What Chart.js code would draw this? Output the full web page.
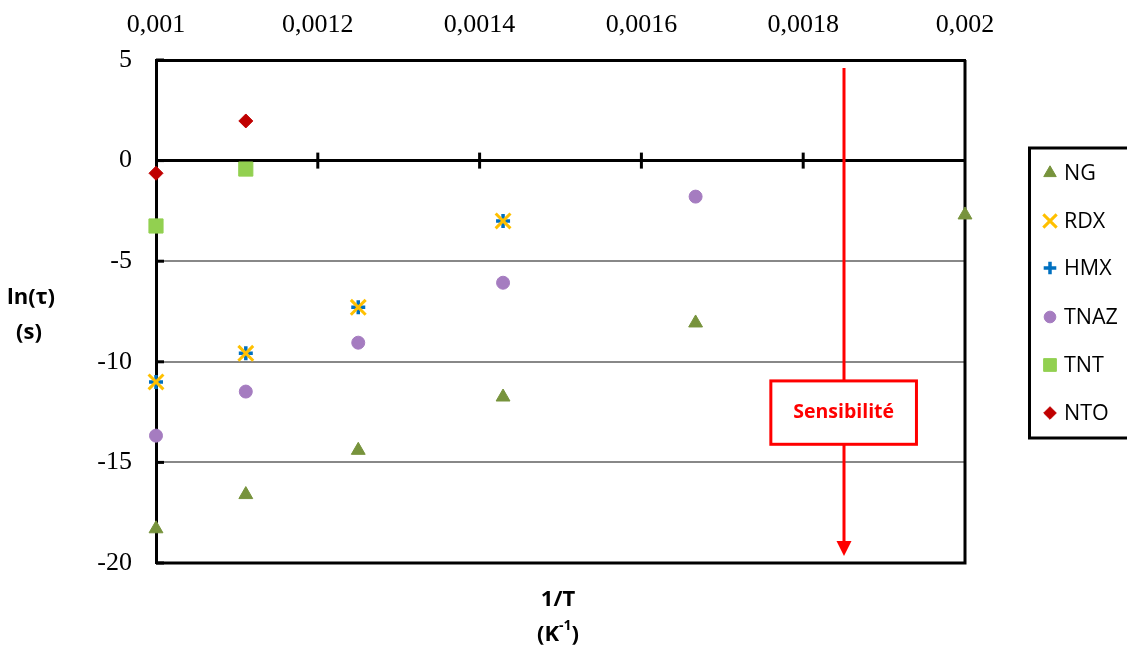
<!DOCTYPE html>
<html>
<head>
<meta charset="utf-8">
<script src="https://cdn.jsdelivr.net/npm/chart.js@4.4.0/dist/chart.umd.min.js"></script>
<style>
  body { margin: 0; background: #fff; }
</style>
</head>
<body>
<canvas id="mycanvas" width="1127" height="648"></canvas>
<script>
// 1/T values (K-1), T = 1000, 900, 800, 700, 600, 500 K
var invT = [0.001, 0.001111, 0.00125, 0.001429, 0.001667, 0.002];

var ng   = [-18.3, -16.6, -14.4, -11.75, -8.07, -2.7];
var rdx  = [-11.0, -9.58, -7.29, -3.0];
var hmx  = [-11.0, -9.58, -7.29, -3.0];
var tnaz = [-13.67, -11.48, -9.05, -6.07, -1.79];
var tnt  = [-3.25, -0.42];
var nto  = [-0.63, 1.97];

var xMin = 0.001, xMax = 0.002, xStep = 0.0002;
var yMin = -20, yMax = 5, yStep = 5;

// "Sensibilité" arrow, in data units
var sensX = 0.00185, sensTop = 4.6, sensBottom = -19.65;
var sensBox = { x1: 0.00176, x2: 0.00194, y1: -10.95, y2: -14.1 };

function pts(ys) {
  return ys.map(function(y, i) { return { x: invT[i], y: y }; });
}

var series = [
  { label: "NG",   data: ng,   color: "#77933C", style: "triangle", r: 8, bw: 1 },
  { label: "RDX",  data: rdx,  color: "#FFC000", style: "crossRot", r: 10.5, bw: 3 },
  { label: "HMX",  data: hmx,  color: "#0070C0", style: "cross",    r: 7, bw: 3.5 },
  { label: "TNAZ", data: tnaz, color: "#A57CC0", style: "circle",   r: 6.5, bw: 1 },
  { label: "TNT",  data: tnt,  color: "#92D050", style: "rect",     r: 10, bw: 1 },
  { label: "NTO",  data: nto,  color: "#C00000", style: "rectRot",  r: 7, bw: 1 }
];

var datasets = series.map(function(s) {
  return {
    label: s.label,
    data: pts(s.data),
    pointStyle: s.style,
    pointRadius: s.r,
    pointBorderWidth: s.bw,
    backgroundColor: s.color,
    borderColor: s.color,
    clip: false
  };
});

var extras = {
  id: 'extras',
  beforeDatasetsDraw: function(chart) {
    var ctx = chart.ctx, a = chart.chartArea, xs = chart.scales.x, ys = chart.scales.y;
    ctx.save();
    ctx.strokeStyle = '#000';
    ctx.lineWidth = 3;
    ctx.beginPath();
    ctx.moveTo(a.right, a.top);
    ctx.lineTo(a.right, a.bottom);
    ctx.lineTo(a.left, a.bottom);
    ctx.stroke();
    // tick marks on the zero line
    var y0 = ys.getPixelForValue(0);
    xs.ticks.forEach(function(t) {
      if (t.value <= xMin + 1e-9 || t.value >= xMax - 1e-9) return;
      var px = xs.getPixelForValue(t.value);
      ctx.beginPath(); ctx.moveTo(px, y0 - 8); ctx.lineTo(px, y0 + 8); ctx.stroke();
    });
    // small inner ticks on the y axis
    ys.ticks.forEach(function(t) {
      var py = ys.getPixelForValue(t.value);
      ctx.beginPath(); ctx.moveTo(a.left, py); ctx.lineTo(a.left + 8, py); ctx.stroke();
    });
    ctx.restore();
  },
  afterDatasetsDraw: function(chart) {
    var ctx = chart.ctx, xs = chart.scales.x, ys = chart.scales.y;
    var px = Math.round(xs.getPixelForValue(sensX));
    var top = ys.getPixelForValue(sensTop), tip = ys.getPixelForValue(sensBottom);
    ctx.save();
    ctx.strokeStyle = '#FF0000';
    ctx.fillStyle = '#FF0000';
    ctx.lineWidth = 3;
    ctx.beginPath(); ctx.moveTo(px, top); ctx.lineTo(px, tip - 12); ctx.stroke();
    ctx.beginPath();
    ctx.moveTo(px, tip); ctx.lineTo(px - 7.5, tip - 15); ctx.lineTo(px + 7.5, tip - 15);
    ctx.closePath(); ctx.fill();
    var bx1 = xs.getPixelForValue(sensBox.x1), bx2 = xs.getPixelForValue(sensBox.x2);
    var by1 = ys.getPixelForValue(sensBox.y1), by2 = ys.getPixelForValue(sensBox.y2);
    ctx.fillStyle = '#fff';
    ctx.fillRect(bx1, by1, bx2 - bx1, by2 - by1);
    ctx.strokeRect(bx1, by1, bx2 - bx1, by2 - by1);
    ctx.fillStyle = '#FF0000';
    ctx.font = 'bold 19.5px "Open Sans"';
    ctx.textAlign = 'center';
    ctx.textBaseline = 'middle';
    ctx.fillText('Sensibilité', (bx1 + bx2) / 2, (by1 + by2) / 2);
    ctx.restore();
  },
  afterDraw: function(chart) {
    var ctx = chart.ctx;
    ctx.save();
    // legend
    ctx.strokeStyle = '#000';
    ctx.lineWidth = 3;
    ctx.beginPath();
    ctx.moveTo(1135, 148); ctx.lineTo(1029.5, 148); ctx.lineTo(1029.5, 438); ctx.lineTo(1135, 438);
    ctx.stroke();
    var ly = [173, 221, 268, 317, 365, 413];
    series.forEach(function(s, i) {
      ctx.fillStyle = s.color;
      ctx.strokeStyle = s.color;
      ctx.lineWidth = s.bw;
      Chart.helpers.drawPoint(ctx, { pointStyle: s.style, radius: s.r * 0.9, borderWidth: s.bw, rotation: 0 }, 1050, ly[i]);
      ctx.fillStyle = '#000';
      ctx.font = '21.5px "Open Sans"';
      ctx.textAlign = 'left';
      ctx.textBaseline = 'middle';
      ctx.fillText(s.label, 1064, ly[i] + 1);
    });
    // axis titles
    ctx.fillStyle = '#000';
    ctx.textAlign = 'center';
    ctx.textBaseline = 'middle';
    ctx.font = 'bold 22px "Open Sans"';
    ctx.fillText('ln(τ)', 31, 298);
    ctx.fillText('(s)', 29, 333);
    ctx.fillText('1/T', 558, 600);
    // (K-1) with superscript
    var big = 'bold 22px "Open Sans"', small = 'bold 14px "Open Sans"';
    ctx.font = big;
    var w1 = ctx.measureText('(K').width, w3 = ctx.measureText(')').width;
    ctx.font = small;
    var w2 = ctx.measureText('-1').width;
    var x0 = 558 - (w1 + w2 + w3) / 2;
    ctx.textAlign = 'left';
    ctx.font = big;
    ctx.fillText('(K', x0, 635);
    ctx.font = small;
    ctx.fillText('-1', x0 + w1, 626);
    ctx.font = big;
    ctx.fillText(')', x0 + w1 + w2, 635);
    ctx.restore();
  }
};

Chart.defaults.color = '#000';

var ctx = document.getElementById('mycanvas');
var chart = new Chart(ctx, {
  type: 'scatter',
  data: { datasets: datasets },
  options: {
    responsive: false,
    animation: false,
    devicePixelRatio: 1,
    layout: { padding: { left: 0, right: 162, top: 0, bottom: 85 } },
    plugins: { legend: { display: false }, tooltip: { enabled: false } },
    scales: {
      x: {
        type: 'linear',
        position: 'top',
        min: xMin, max: xMax,
        afterFit: function(s) { s.height = 60; },
        grid: { display: false, drawTicks: false },
        border: { display: true, color: '#000', width: 3 },
        ticks: {
          stepSize: xStep,
          padding: 19,
          font: { family: '"Liberation Serif"', size: 26 },
          callback: function(v) { return String(parseFloat(v.toPrecision(6))).replace('.', ','); }
        }
      },
      y: {
        type: 'linear',
        min: yMin, max: yMax,
        afterFit: function(s) { s.width = 156; },
        grid: {
          drawTicks: false,
          color: function(c) { return c.tick && c.tick.value === 0 ? '#000' : '#888'; },
          lineWidth: function(c) { return c.tick && c.tick.value === 0 ? 3 : 2; }
        },
        border: { display: true, color: '#000', width: 3 },
        ticks: {
          stepSize: yStep,
          padding: 24,
          font: { family: '"Liberation Serif"', size: 26 },
          callback: function(v) { return String(v); }
        }
      }
    }
  },
  plugins: [extras]
});
</script>
</body>
</html>
